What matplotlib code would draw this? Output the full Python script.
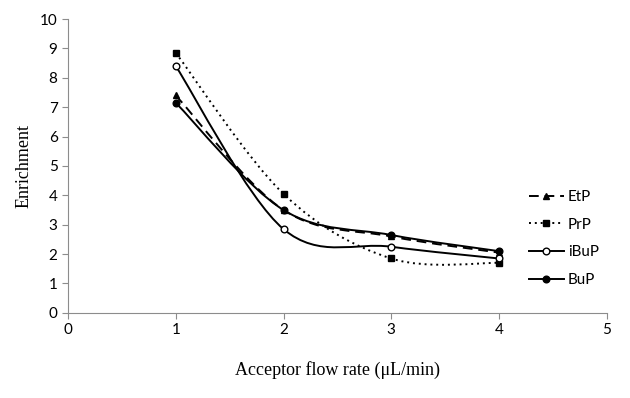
import matplotlib.pyplot as plt
import numpy as np
from matplotlib.path import Path
from matplotlib.patches import PathPatch
from matplotlib.lines import Line2D

flow = [1, 2, 3, 4]
etp = [7.4, 3.5, 2.6, 2.05]
prp = [8.85, 4.05, 1.85, 1.7]
ibup = [8.4, 2.85, 2.25, 1.85]
bup = [7.15, 3.5, 2.65, 2.1]


def smooth_path(xs, ys):
    # Excel-style smoothed line: cubic Bezier segments through the points
    pts = np.column_stack([xs, ys]).astype(float)
    n = len(pts)
    verts = [pts[0]]
    codes = [Path.MOVETO]
    for i in range(n - 1):
        p0 = pts[i - 1] if i > 0 else pts[i]
        p1 = pts[i]
        p2 = pts[i + 1]
        p3 = pts[i + 2] if i + 2 < n else pts[i + 1]
        c1 = p1 + (p2 - p0) / 6
        c2 = p2 - (p3 - p1) / 6
        verts += [c1, c2, p2]
        codes += [Path.CURVE4] * 3
    return Path(verts, codes)


fig = plt.figure(figsize=(6.3, 3.98), dpi=100)
ax = fig.add_axes([0.108, 0.214, 0.855, 0.738])

series = [
    ('EtP', etp, (0, (5, 3)), '^', 'k'),
    ('PrP', prp, (0, (1, 2)), 's', 'k'),
    ('iBuP', ibup, '-', 'o', 'white'),
    ('BuP', bup, '-', 'o', 'k'),
]
handles = []
for name, vals, ls, mk, mfc in series:
    ax.add_patch(PathPatch(smooth_path(flow, vals), fill=False, edgecolor='k',
                           linestyle=ls, linewidth=1.4))
    ax.plot(flow, vals, linestyle='none', marker=mk, markersize=4.8,
            markerfacecolor=mfc, markeredgecolor='k', markeredgewidth=1)
    handles.append(Line2D([], [], color='k', linestyle=ls, linewidth=1.4, marker=mk,
                          markersize=4.8, markerfacecolor=mfc, markeredgecolor='k'))

ax.set_xlim(0, 5)
ax.set_ylim(0, 10)
ax.set_xticks(range(6))
ax.set_yticks(range(11))
for s in ['top', 'right']:
    ax.spines[s].set_visible(False)
for s in ['left', 'bottom']:
    ax.spines[s].set_color('#8c8c8c')
ax.tick_params(colors='#8c8c8c', labelcolor='k', labelsize=11, length=4)
for lbl in ax.get_xticklabels() + ax.get_yticklabels():
    lbl.set_family('Lato')

ax.set_xlabel('Acceptor flow rate (μL/min)', family='Liberation Serif', fontsize=13, labelpad=17)
ax.set_ylabel('Enrichment', family='Liberation Serif', fontsize=13, labelpad=5)

ax.legend(handles, [s[0] for s in series], loc='center left', bbox_to_anchor=(0.83, 0.253),
          frameon=False, prop={'family': 'Lato', 'size': 11}, handlelength=2.3,
          labelspacing=0.9, handletextpad=0.25)

fig.savefig('out.png')
